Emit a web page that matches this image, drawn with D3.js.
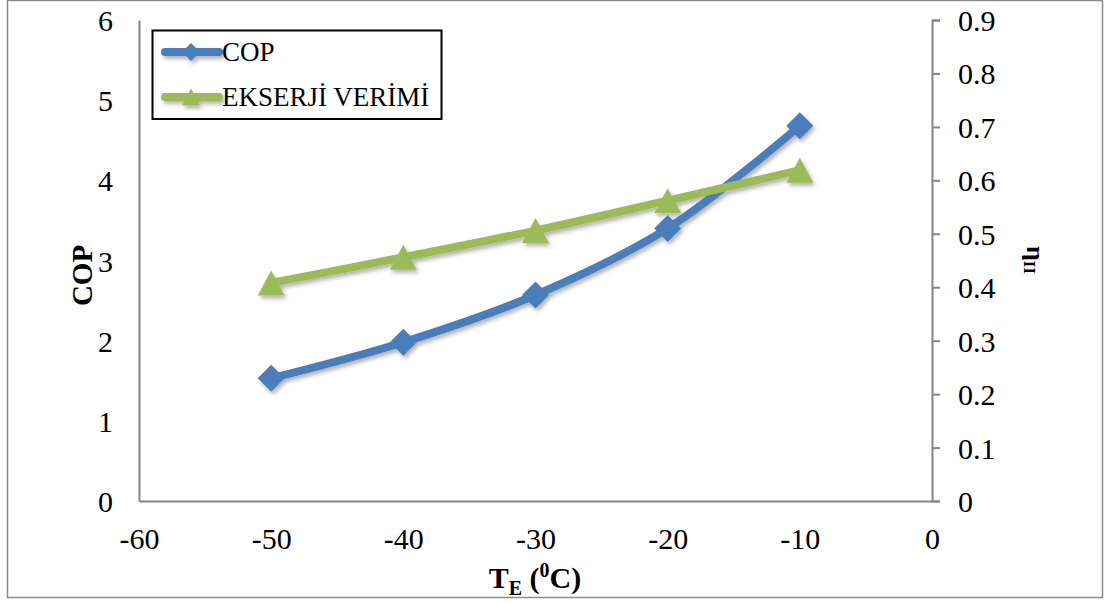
<!DOCTYPE html>
<html>
<head>
<meta charset="utf-8">
<script src="https://cdn.jsdelivr.net/npm/d3@7/dist/d3.min.js"></script>
<style>
  html, body { margin: 0; padding: 0; background: #fff; }
  svg { display: block; font-family: "Liberation Serif", "Times New Roman", serif; }
</style>
</head>
<body>
<svg id="chart" width="1107" height="603"></svg>
<script>
// Evaporator temperature (°C)
const temperatures = [-50, -40, -30, -20, -10];
// Coefficient of performance
const copValues = [1.53, 1.98, 2.57, 3.40, 4.68];
// Exergy efficiency (η_II)
const exergyValues = [0.408, 0.456, 0.506, 0.562, 0.619];

const xTicks = [-60, -50, -40, -30, -20, -10, 0];
const copTicks = [0, 1, 2, 3, 4, 5, 6];
const etaTicks = [0, 0.1, 0.2, 0.3, 0.4, 0.5, 0.6, 0.7, 0.8, 0.9];

const seriesNames = ["COP", "EKSERJİ VERİMİ"];
const blue = "#4a7ebb", green = "#9bbb59", axisGray = "#868686";

const svg = d3.select("#chart");

// outer frame
svg.append("rect")
  .attr("x", 7.5).attr("y", 0.5).attr("width", 1095).attr("height", 597)
  .attr("fill", "#fff").attr("stroke", "#8c8c8c").attr("stroke-width", 1.5);

const defs = svg.append("defs");
const shadow = defs.append("filter").attr("id", "shadow")
  .attr("x", "-30%").attr("y", "-30%").attr("width", "160%").attr("height", "160%");
shadow.append("feDropShadow")
  .attr("dx", 2).attr("dy", 3).attr("stdDeviation", 2)
  .attr("flood-color", "#000").attr("flood-opacity", 0.3);

const plotLeft = 139, plotRight = 932, plotTop = 20, plotBottom = 501;

const x = d3.scaleLinear().domain([-60, 0]).range([plotLeft, plotRight]);
const yCop = d3.scaleLinear().domain([0, 6]).range([plotBottom, plotTop]);
const yEta = d3.scaleLinear().domain([0, 0.9]).range([plotBottom, plotTop]);

const tickFont = 30;

// bottom axis
const xAxis = svg.append("g").attr("transform", `translate(0,${plotBottom})`)
  .call(d3.axisBottom(x).tickValues(xTicks).tickSize(0).tickPadding(22)
    .tickFormat(d => d3.format("d")(d).replace("−", "-")));
xAxis.select(".domain").attr("stroke", axisGray).attr("stroke-width", 2);
xAxis.selectAll("text").attr("font-size", tickFont).attr("fill", "#000")
  .attr("font-family", "Liberation Serif").attr("dy", "0.35em").attr("y", 37);

// left axis
const yAxisL = svg.append("g").attr("transform", `translate(${plotLeft},0)`)
  .call(d3.axisLeft(yCop).tickValues(copTicks).tickSize(0).tickPadding(26).tickFormat(d3.format("d")));
yAxisL.select(".domain").attr("stroke", axisGray).attr("stroke-width", 2);
yAxisL.selectAll("text").attr("font-size", tickFont).attr("fill", "#000")
  .attr("font-family", "Liberation Serif").attr("dy", "0.35em");

// right axis
const yAxisR = svg.append("g").attr("transform", `translate(${plotRight},0)`)
  .call(d3.axisRight(yEta).tickValues(etaTicks).tickSize(8).tickPadding(18)
    .tickFormat(d => d === 0 ? "0" : d3.format(".1f")(d)));
yAxisR.select(".domain").attr("stroke", axisGray).attr("stroke-width", 2);
yAxisR.selectAll(".tick line").attr("stroke", axisGray).attr("stroke-width", 2);
yAxisR.selectAll("text").attr("font-size", tickFont).attr("fill", "#000")
  .attr("font-family", "Liberation Serif").attr("dy", "0.35em");

// axis titles
svg.append("text")
  .attr("transform", `translate(82,${(plotTop + plotBottom) / 2 + 15}) rotate(-90)`)
  .attr("text-anchor", "middle").attr("dominant-baseline", "central")
  .attr("font-size", 29).attr("font-weight", "bold").text("COP");

const etaTitle = svg.append("text")
  .attr("transform", `translate(1036,260) rotate(90)`)
  .attr("text-anchor", "middle").attr("dominant-baseline", "central")
  .attr("font-size", 26).attr("font-weight", "bold");
etaTitle.append("tspan").text("η");
etaTitle.append("tspan").attr("font-size", 17).attr("dy", 6).text("II");

const xTitle = svg.append("text")
  .attr("x", 535).attr("y", 588)
  .attr("text-anchor", "middle").attr("font-size", 30).attr("font-weight", "bold");
xTitle.append("tspan").text("T");
xTitle.append("tspan").attr("font-size", 20).attr("dy", 7).text("E");
xTitle.append("tspan").attr("dy", -7).text(" (");
xTitle.append("tspan").attr("font-size", 20).attr("dy", -11).text("0");
xTitle.append("tspan").attr("dy", 11).text("C)");

// series
const copData = temperatures.map((t, i) => ({ t, v: copValues[i] }));
const etaData = temperatures.map((t, i) => ({ t, v: exergyValues[i] }));

const copLine = d3.line().x(d => x(d.t)).y(d => yCop(d.v)).curve(d3.curveCatmullRom.alpha(0.5));
const etaLine = d3.line().x(d => x(d.t)).y(d => yEta(d.v)).curve(d3.curveCatmullRom.alpha(0.5));

const plot = svg.append("g").attr("filter", "url(#shadow)");

plot.append("path").datum(copData).attr("d", copLine)
  .attr("fill", "none").attr("stroke", blue).attr("stroke-width", 8).attr("stroke-linejoin", "round");
plot.append("path").datum(etaData).attr("d", etaLine)
  .attr("fill", "none").attr("stroke", green).attr("stroke-width", 8).attr("stroke-linejoin", "round");

const diamond = s => `M0,${-s} L${s},0 L0,${s} L${-s},0 Z`;
const triangle = (w, h) => `M0,${-h / 2} L${w / 2},${h / 2} L${-w / 2},${h / 2} Z`;

plot.selectAll(".cop-pt").data(copData).join("path")
  .attr("transform", d => `translate(${x(d.t)},${yCop(d.v)})`)
  .attr("d", diamond(13.5)).attr("fill", blue);

plot.selectAll(".eta-pt").data(etaData).join("path")
  .attr("transform", d => `translate(${x(d.t)},${yEta(d.v)})`)
  .attr("d", triangle(27, 25)).attr("fill", green);

// legend
const lg = svg.append("g");
lg.append("rect").attr("x", 152.5).attr("y", 30.5).attr("width", 289).attr("height", 88.5)
  .attr("fill", "#fff").attr("stroke", "#000").attr("stroke-width", 2);

const legendRows = [
  { name: seriesNames[0], color: blue, y: 52, marker: diamond(9) },
  { name: seriesNames[1], color: green, y: 97, marker: triangle(18, 17) }
];
legendRows.forEach(r => {
  const g = lg.append("g").attr("filter", "url(#shadow)");
  g.append("line").attr("x1", 165).attr("x2", 219).attr("y1", r.y).attr("y2", r.y)
    .attr("stroke", r.color).attr("stroke-width", 8).attr("stroke-linecap", "round");
  g.append("path").attr("transform", `translate(191,${r.y})`).attr("d", r.marker).attr("fill", r.color);
  lg.append("text").attr("x", 222).attr("y", r.y).attr("dy", "0.33em")
    .attr("font-size", 27).attr("fill", "#000").text(r.name);
});
</script>
</body>
</html>
